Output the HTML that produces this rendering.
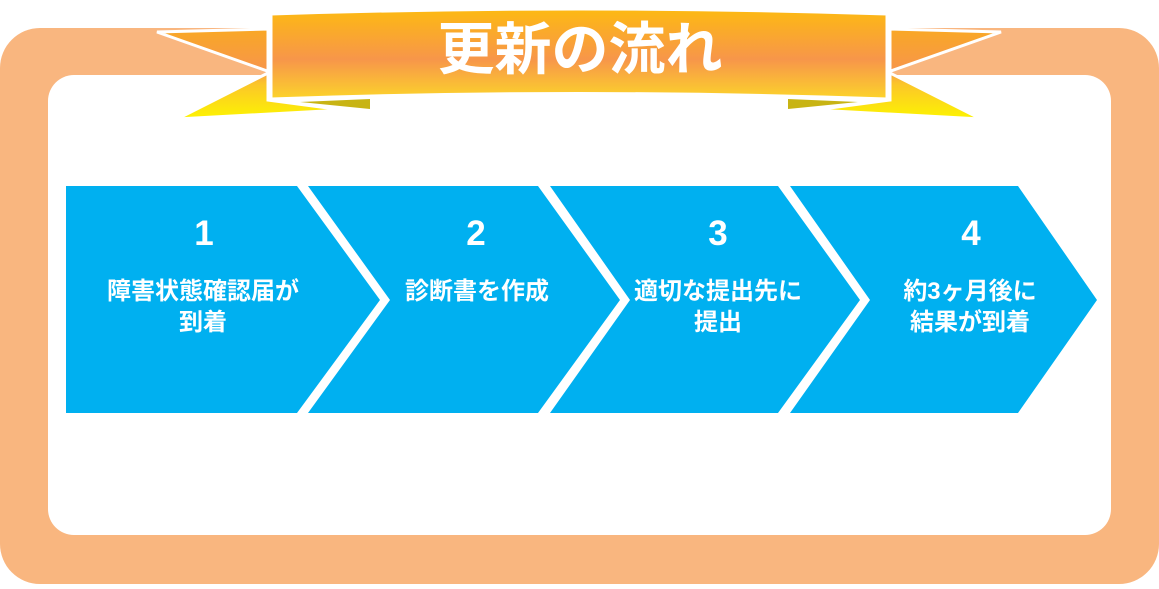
<!DOCTYPE html>
<html><head><meta charset="utf-8"><style>
body{margin:0;width:1159px;height:584px;overflow:hidden;background:#fff}
text{font-family:"Liberation Sans","Noto Sans CJK JP",sans-serif;font-weight:bold;fill:#fff}
</style></head><body>
<svg width="1159" height="584" viewBox="0 0 1159 584">
<defs>
<linearGradient id="gc" x1="0" y1="10" x2="0" y2="100" gradientUnits="userSpaceOnUse">
<stop offset="0" stop-color="#FDB913"/><stop offset="0.55" stop-color="#F7964A"/><stop offset="1" stop-color="#FCD52A"/>
</linearGradient>
<linearGradient id="gw" x1="0" y1="29" x2="0" y2="120" gradientUnits="userSpaceOnUse">
<stop offset="0" stop-color="#F9A825"/><stop offset="0.45" stop-color="#F7964A"/><stop offset="0.6" stop-color="#FBC52A"/><stop offset="1" stop-color="#FDF500"/>
</linearGradient>
</defs>
<rect x="0" y="28" width="1159" height="556" rx="40" fill="#F9B67F"/>
<rect x="48" y="75" width="1063" height="460" rx="26" fill="#fff"/>
<polygon points="157,32 268,29 268,100 343,110 177,119 270,72" fill="url(#gw)" stroke="#fff" stroke-width="3"/>
<polygon points="300,102 370,99 370,109" fill="#C8B414"/>
<polygon points="1001,32 890,29 890,100 815,110 981,119 888,72" fill="url(#gw)" stroke="#fff" stroke-width="3"/>
<polygon points="858,102 788,99 788,109" fill="#C8B414"/>
<path d="M271,14 Q579,4 887,14 L887,99 Q579,88 271,99 Z" fill="url(#gc)" stroke="#fff" stroke-width="3"/>
<text x="580" y="69" font-size="57" text-anchor="middle">更新の流れ</text>
<g fill="#00B0F0">
<polygon points="66,186 297,186 380,300 297,413 66,413"/>
<polygon points="308,186 538,186 620,300 538,413 308,413 390,300"/>
<polygon points="550,186 778,186 860,300 778,413 550,413 630,300"/>
<polygon points="790,186 1018,186 1097,300 1018,413 790,413 870,300"/>
</g>
<g font-size="35" text-anchor="middle">
<text x="204" y="245">1</text><text x="476" y="245">2</text><text x="718" y="245">3</text><text x="971" y="245">4</text>
</g>
<g font-size="24" text-anchor="middle">
<text x="203" y="299">障害状態確認届が</text><text x="203" y="330">到着</text>
<text x="477" y="299">診断書を作成</text>
<text x="718" y="299">適切な提出先に</text><text x="718" y="330">提出</text>
<text x="970" y="299">約3ヶ月後に</text><text x="970" y="330">結果が到着</text>
</g>
</svg>
</body></html>
